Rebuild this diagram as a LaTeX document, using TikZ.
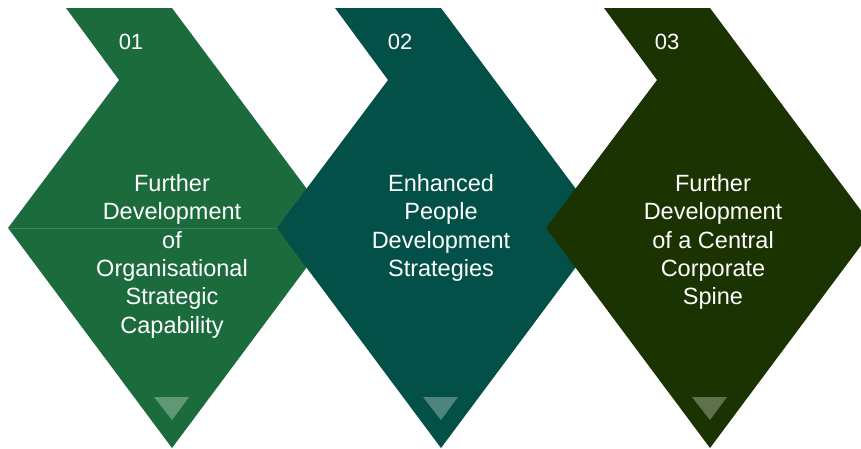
\documentclass[tikz,border=0pt]{standalone}
\usepackage{fontspec}
\setmainfont{Liberation Sans}
\usepackage{tikz}
\usepackage{xcolor}
\definecolor{greenA}{RGB}{27,107,61}
\definecolor{greenB}{RGB}{2,80,71}
\definecolor{greenC}{RGB}{26,51,0}
\tikzstyle{seam} = [white, opacity=0.15, line width=0.8pt]
\tikzstyle{marker} = [fill=white, fill opacity=0.3]
\tikzstyle{number} = [text=white, anchor=base, inner sep=0pt, font=\fontsize{22}{26}\selectfont]
\tikzstyle{steptext} = [text=white, anchor=north, align=center, inner sep=0pt, font=\fontsize{23.5}{28.4}\selectfont]

\begin{document}
\begin{tikzpicture}[x=1pt, y=-1pt]

\useasboundingbox (0,0) rectangle (861,448);
\clip (0,0) rectangle (861,448);

% Step 1
\fill[greenA] (66,8) -- (172,8) -- (336,228) -- (172,448) -- (8,228) -- (119,80) -- cycle;
\draw[seam] (8,228) -- (336,228);
\fill[marker] (154,397) -- (189,397) -- (172,420) -- cycle;
\node (n1) [number] at (131,49) {01};
\node (t1) [steptext] at (172,174) {Further\\Development\\of\\Organisational\\Strategic\\Capability};

% Step 2
\fill[greenB] (335,8) -- (441,8) -- (605,228) -- (441,448) -- (277,228) -- (388,80) -- cycle;
\fill[marker] (423,397) -- (458,397) -- (441,420) -- cycle;
\node (n2) [number] at (400,49) {02};
\node (t2) [steptext] at (441,174) {Enhanced\\People\\Development\\Strategies};

% Step 3
\fill[greenC] (604,8) -- (710,8) -- (874,228) -- (710,448) -- (546,228) -- (657,80) -- cycle;
\fill[marker] (692,397) -- (727,397) -- (710,420) -- cycle;
\node (n3) [number] at (667,49) {03};
\node (t3) [steptext] at (713,174) {Further\\Development\\of a Central\\Corporate\\Spine};

\end{tikzpicture}
\end{document}
